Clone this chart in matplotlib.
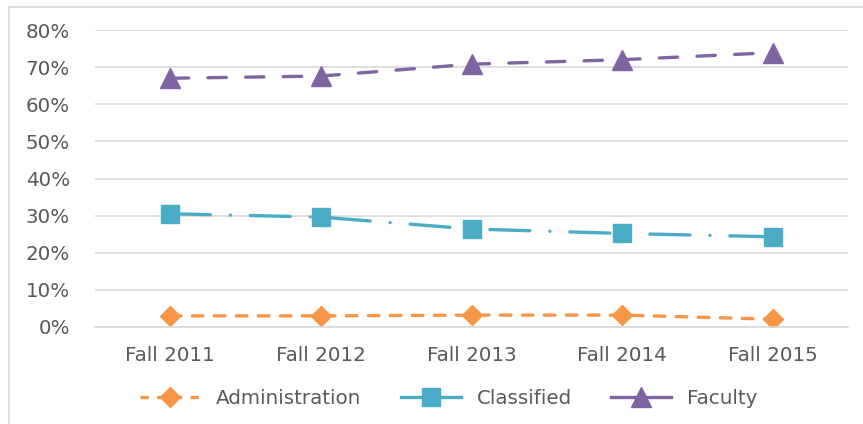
import matplotlib.pyplot as plt
from matplotlib.lines import Line2D

plt.rcParams['font.family'] = ['DejaVu Sans']

years = ["Fall 2011", "Fall 2012", "Fall 2013", "Fall 2014", "Fall 2015"]
administration = [3.0, 3.0, 3.2, 3.2, 2.1]
classified = [30.5, 29.6, 26.4, 25.2, 24.3]
faculty = [67.0, 67.6, 70.8, 72.0, 73.9]

orange = "#F79646"
teal = "#4BACC6"
purple = "#8064A2"
text_col = "#595959"

admin_dash = (3.2, 3.4)
class_dash = (12, 6, 0.01, 6)
fac_dash = (5.5, 5.8)

fig = plt.figure(figsize=(8.63, 4.24), dpi=100)
ax = fig.add_axes([95 / 863, 1 - 327 / 424, (848 - 95) / 863, (327 - 30) / 424])

x = range(len(years))
ax.plot(x, administration, color=orange, lw=2.4, dashes=admin_dash, dash_capstyle="round",
        marker="D", ms=10.5, label="Administration")
ax.plot(x, classified, color=teal, lw=2.4, dashes=class_dash, dash_capstyle="round",
        marker="s", ms=12.5, label="Classified")
ax.plot(x, faculty, color=purple, lw=2.4, dashes=fac_dash, dash_capstyle="round",
        marker="^", ms=14, label="Faculty")

ax.set_xlim(-0.5, 4.5)
ax.set_ylim(0, 80)
ax.set_yticks(range(0, 81, 10))
ax.set_yticklabels([f"{v}%" for v in range(0, 81, 10)])
ax.set_xticks(list(x))
ax.set_xticklabels(years)
ax.grid(axis="y", color="#D9D9D9", lw=1.2)
ax.set_axisbelow(True)
for s in ["top", "right", "left"]:
    ax.spines[s].set_visible(False)
ax.spines["bottom"].set_color("#D9D9D9")
ax.spines["bottom"].set_linewidth(1.2)
ax.tick_params(length=0, labelsize=14.3, colors=text_col)
ax.tick_params(axis="y", pad=18)
ax.tick_params(axis="x", pad=14)

handles = [
    Line2D([], [], color=orange, lw=2.4, dashes=(2.5, 2.5), marker="D", ms=10.5),
    Line2D([], [], color=teal, lw=2.4, marker="s", ms=12.5),
    Line2D([], [], color=purple, lw=2.4, marker="^", ms=14),
]
fig.legend(handles, ["Administration", "Classified", "Faculty"], loc="center",
           bbox_to_anchor=(0.52, 1 - 398 / 424), ncol=3, frameon=False,
           fontsize=14.3, labelcolor=text_col, handlelength=3.0, columnspacing=2.0,
           handletextpad=0.8)

# thin outer border like the chart frame
fig.add_artist(Line2D([9 / 863, 9 / 863], [0, 1 - 7 / 424], color="#D9D9D9", lw=1.2,
                      transform=fig.transFigure))
fig.add_artist(Line2D([9 / 863, 1], [1 - 7 / 424, 1 - 7 / 424], color="#D9D9D9", lw=1.2,
                      transform=fig.transFigure))

fig.savefig("out.png", dpi=100)
